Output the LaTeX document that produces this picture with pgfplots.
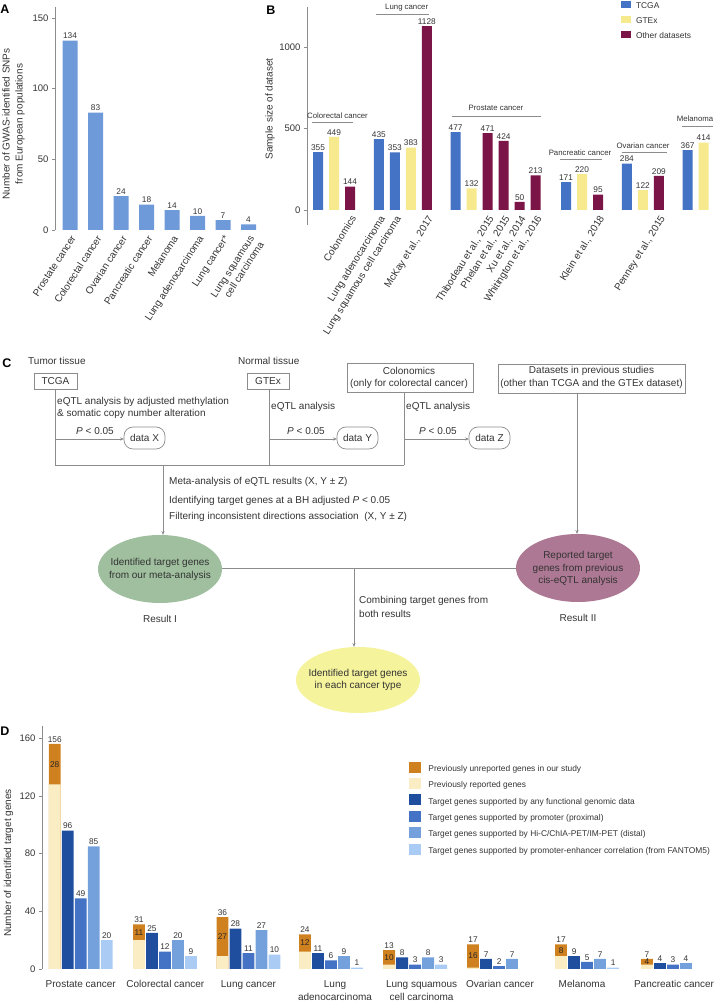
\documentclass[border=0pt]{standalone}
\usepackage{fontspec}
\setmainfont{Liberation Sans}
\usepackage{pgfplots}
\pgfplotsset{compat=1.18}
\usetikzlibrary{arrows.meta}
\definecolor{txt}{HTML}{333333}
\definecolor{axgray}{HTML}{8C8C8C}
\definecolor{abar}{HTML}{6F9AD9}
\definecolor{tcga}{HTML}{4472C4}
\definecolor{gtex}{HTML}{F7E98E}
\definecolor{other}{HTML}{7B1548}
\definecolor{unrep}{HTML}{D0811F}
\definecolor{rep}{HTML}{FAEDC4}
\definecolor{anyf}{HTML}{1F4E9F}
\definecolor{prom}{HTML}{4472C4}
\definecolor{hic}{HTML}{74A1DC}
\definecolor{fant}{HTML}{AACCF4}
\definecolor{egreen}{HTML}{9FBF9E}
\definecolor{epurple}{HTML}{AD7893}
\definecolor{eyellow}{HTML}{F5F39C}
\pgfkeys{/pgf/number format/.cd, assume math mode=true, 1000 sep={}}
\pgfplotsset{
  panel/.style={
    anchor=south west,
    axis lines*=left,
    axis line style={-},
    x axis line style={draw=none},
    y axis line style={draw=axgray, line width=0.6pt},
    xtick style={draw=none},
    ytick style={draw=axgray, line width=0.6pt},
    major tick length=3pt,
    tick align=outside,
    tick label style={font=\fontsize{9.5}{11}\selectfont, text=txt},
    clip=false,
    nodes near coords style={font=\fontsize{8.3}{9}\selectfont, text=txt, inner sep=1.5pt},
  },
  bars/.style={ybar, bar shift=0pt, draw=none, forget plot},
}
\begin{document}
\begin{tikzpicture}
% ---------------- Panel A ----------------
\begin{axis}[panel, at={(55pt,776pt)}, x=25.5pt, y=1.414pt,
  xmin=-0.59, xmax=7.45, ymin=0, ymax=158,
  xtick={0,1,2,3,4,5,6,7}, ytick={0,50,100,150},
  xticklabels={Prostate cancer, Colorectal cancer, Ovarian cancer, Pancreatic cancer, Melanoma, Lung adenocarcinoma, Lung cancer*, {Lung squamous\\cell carcinoma}},
  xticklabel style={rotate=57, anchor=north east, align=right, font=\fontsize{10}{11.5}\selectfont, inner sep=1pt},
]
\addplot[bars, bar width=15pt, fill=abar, nodes near coords] coordinates {(0,134) (1,83) (2,24) (3,18) (4,14) (5,10) (6,7) (7,4)};
\end{axis}
% ---------------- Panel B ----------------
\begin{axis}[panel, at={(307pt,796pt)}, x=16pt, y=0.163pt,
  xmin=-0.69, xmax=24.8, ymin=0, ymax=1245,
  y axis line style={draw=none},
  ytick={0,500,1000},
  xtick={2,3.8,4.8,6.8,10.6,11.6,12.6,13.6,17.5,21.3},
  xticklabels={Colonomics, Lung adenocarcinoma, Lung squamous cell carcinoma, {McKay et al., 2017}, {Thibodeau et al., 2015}, {Phelan et al., 2015}, {Xu et al., 2014}, {Whitington et al., 2016}, {Klein et al., 2018}, {Penney et al., 2015}},
  xticklabel style={rotate=58, anchor=north east, font=\fontsize{10}{11}\selectfont, inner sep=1pt},
  legend style={at={(0.770,1.030)}, anchor=north west, draw=none, fill=none, inner sep=0pt, outer sep=0pt, column sep=4.5pt, row sep=4.5pt, font=\fontsize{8.4}{10}\selectfont, text=txt, nodes={inner sep=0.5pt, text height=6pt, text depth=2pt}},
  legend cell align=left,
  legend image code/.code={\fill[#1] (0pt,-1.5pt) rectangle (10pt,5.9pt);},
]
\draw[axgray, line width=0.6pt] (axis cs:-0.69,-92) -- (axis cs:-0.69,1245);
\addplot[bars, bar width=10pt, fill=tcga, nodes near coords] coordinates {(0,355) (3.8,435) (4.8,353) (8.6,477) (15.5,171) (19.3,284) (23.1,367)};
\addplot[bars, bar width=10pt, fill=gtex, nodes near coords] coordinates {(1,449) (5.8,383) (9.6,132) (16.5,220) (20.3,122) (24.1,414)};
\addplot[bars, bar width=10pt, fill=other, nodes near coords] coordinates {(2,144) (6.8,1128) (10.6,471) (11.6,424) (12.6,50) (13.6,213) (17.5,95) (21.3,209)};
\addlegendimage{fill=tcga, draw=none}\addlegendentry{TCGA}
\addlegendimage{fill=gtex, draw=none}\addlegendentry{GTEx}
\addlegendimage{fill=other, draw=none}\addlegendentry{Other datasets}
\end{axis}
% ---------------- Panel D ----------------
\begin{axis}[panel, at={(42pt,37pt)}, x=13pt, y=1.4425pt,
  xmin=-0.98, xmax=50, ymin=0, ymax=168.5,
  ytick={0,40,80,120,160},
  xtick={2,8.51,14.9,21.56,28.22,34.25,40.56,47.64},
  xticklabels={Prostate cancer, Colorectal cancer, Lung cancer, {Lung\\adenocarcinoma}, {Lung squamous\\cell carcinoma}, Ovarian cancer, Melanoma, Pancreatic cancer},
  xticklabel style={align=center, font=\fontsize{10}{13}\selectfont, yshift=-5pt},
  legend style={at={(0.5545,0.8536)}, anchor=north west, draw=none, fill=none, inner sep=0pt, outer sep=0pt, column sep=6.5pt, row sep=4.2pt, font=\fontsize{8.4}{10}\selectfont, text=txt, nodes={inner sep=0.5pt, text height=6pt, text depth=2pt}},
  legend cell align=left,
  legend image code/.code={\fill[#1] (0pt,-3.3pt) rectangle (12pt,7.7pt);},
]
\addplot[bars, bar width=11.8pt, fill=unrep, nodes near coords] coordinates {(0,156) (6.48,31) (12.9,36) (19.25,24) (25.72,13) (32.18,17) (38.95,17) (45.56,7)};
\addplot[bars, bar width=11.8pt, fill=rep] coordinates {(0,128) (6.48,20) (12.9,9) (19.25,12) (25.72,3) (32.18,1) (38.95,9) (45.56,3)};
\addplot[bars, bar width=11.8pt, fill=anyf, nodes near coords] coordinates {(1,96) (7.48,25) (13.9,28) (20.25,11) (26.72,8) (33.18,7) (39.95,9) (46.56,4)};
\addplot[bars, bar width=11.8pt, fill=prom, nodes near coords] coordinates {(2,49) (8.48,12) (14.9,11) (21.25,6) (27.72,3) (34.18,2) (40.95,5) (47.56,3)};
\addplot[bars, bar width=11.8pt, fill=hic, nodes near coords] coordinates {(3,85) (9.48,20) (15.9,27) (22.25,9) (28.72,8) (35.18,7) (41.95,7) (48.56,4)};
\addplot[bars, bar width=11.8pt, fill=fant, nodes near coords] coordinates {(4,20) (10.48,9) (16.9,10) (23.25,1) (29.72,3) (42.95,1)};
\addplot[forget plot, draw=none, mark=none, nodes near coords, point meta=explicit symbolic, nodes near coords align={center}, nodes near coords style={font=\fontsize{8.3}{9}\selectfont, text=black!85, anchor=center}] coordinates {(0,142)[28] (6.48,25.5)[11] (12.9,22.5)[27] (19.25,18)[12] (25.72,8)[10] (32.18,9)[16] (38.95,13)[8] (45.56,5)[4]};
\addlegendimage{fill=unrep, draw=none}\addlegendentry{Previously unreported genes in our study}
\addlegendimage{fill=rep, draw=none}\addlegendentry{Previously reported genes}
\addlegendimage{fill=anyf, draw=none}\addlegendentry{Target genes supported by any functional genomic data}
\addlegendimage{fill=prom, draw=none}\addlegendentry{Target genes supported by promoter (proximal)}
\addlegendimage{fill=hic, draw=none}\addlegendentry{Target genes supported by Hi-C/ChIA-PET/IM-PET (distal)}
\addlegendimage{fill=fant, draw=none}\addlegendentry{Target genes supported by promoter-enhancer correlation (from FANTOM5)}
\end{axis}
% ---------------- Annotations and flowchart (pixel coordinates) ----------------
\begin{scope}[x=1pt, y=-1pt, yshift=1006pt, every node/.append style={text=txt, inner sep=0pt, font=\fontsize{10}{12}\selectfont}]
  \tikzset{fl/.style={draw=axgray, line width=0.7pt}, arr/.style={fl, -{Stealth[length=4pt, width=3.2pt]}}}
  % panel letters
  \node[font=\bfseries\fontsize{12.5}{12.5}\selectfont, text=black] at (5,9) {A};
  \node[font=\bfseries\fontsize{12.5}{12.5}\selectfont, text=black] at (271,10) {B};
  \node[font=\bfseries\fontsize{12.5}{12.5}\selectfont, text=black] at (7,363) {C};
  \node[font=\bfseries\fontsize{12.5}{12.5}\selectfont, text=black] at (5,731) {D};
  % axis titles
  \node[rotate=90, align=center, font=\fontsize{10}{13}\selectfont] at (13.5,124) {Number of GWAS-identified SNPs\\from European populations};
  \node[rotate=90] at (270,109) {Sample size of dataset};
  \node[rotate=90] at (8.5,863) {Number of identified target genes};
  % B group labels
  \begin{scope}[every node/.append style={font=\fontsize{7.8}{9}\selectfont}]
    \node at (337.5,116) {Colorectal cancer}; \draw[fl, line width=0.6pt] (311.7,122.7) -- (352.7,122.7);
    \node at (406.7,7.3) {Lung cancer}; \draw[fl, line width=0.6pt] (375.7,14.3) -- (429,14.3);
    \node at (496,108.3) {Prostate cancer}; \draw[fl, line width=0.6pt] (451.7,116.7) -- (540.7,116.7);
    \node at (580,152.7) {Pancreatic cancer}; \draw[fl, line width=0.6pt] (560,159) -- (602.3,159);
    \node at (643,145.3) {Ovarian cancer}; \draw[fl, line width=0.6pt] (621.7,152.3) -- (666.7,152.3);
    \node at (695,119) {Melanoma}; \draw[fl, line width=0.6pt] (682,126) -- (713,126);
  \end{scope}
  % ---- flowchart ----
  \node[anchor=west] at (28,361) {Tumor tissue};
  \draw[fl] (34,373) rectangle (77,389); \node at (55.5,381) {TCGA};
  \node[anchor=west] at (57,402) {eQTL analysis by adjusted methylation};
  \node[anchor=west] at (57,414.3) {\& somatic copy number alteration};
  \node[anchor=west] at (238,361) {Normal tissue};
  \draw[fl] (247,373) rectangle (289,389); \node at (268,381) {GTEx};
  \node[anchor=west] at (271,407) {eQTL analysis};
  \draw[fl] (347,363) rectangle (473,392);
  \node at (409,370.5) {Colonomics};
  \node at (409,383.5) {(only for colorectal cancer)};
  \node[anchor=west] at (406,407) {eQTL analysis};
  \draw[fl] (498,364) rectangle (685,393);
  \node at (591.5,371) {Datasets in previous studies};
  \node at (591.5,384) {(other than TCGA and the GTEx dataset)};
  % verticals and bottom line
  \draw[fl] (55,389) -- (55,465) -- (404,465);
  \draw[fl] (269,389) -- (269,465);
  \draw[fl] (404,392) -- (404,465);
  % arrows to data boxes
  \draw[arr] (55,439) -- (124,439);
  \draw[arr] (269,439) -- (337,439);
  \draw[arr] (404,439) -- (469,439);
  \node at (95,431.5) {\textit{P} < 0.05};
  \node at (306,431) {\textit{P} < 0.05};
  \node at (438,431) {\textit{P} < 0.05};
  \draw[fl, rounded corners=9pt] (124,427) rectangle (165,449); \node at (144.5,438) {data X};
  \draw[fl, rounded corners=9pt] (337,427) rectangle (378,449); \node at (357.5,438) {data Y};
  \draw[fl, rounded corners=9pt] (469,427) rectangle (510,449); \node at (489.5,438) {data Z};
  % meta-analysis arrow
  \draw[arr] (163,465) -- (163,535);
  \node[anchor=west] at (169,482) {Meta-analysis of eQTL results (X, Y ± Z)};
  \node[anchor=west] at (169,501) {Identifying target genes at a BH adjusted \textit{P} < 0.05};
  \node[anchor=west] at (169,517) {Filtering inconsistent directions association\ \ (X, Y ± Z)};
  \draw[arr] (577,393) -- (577,534);
  % ellipses
  \fill[egreen] (160,569) ellipse [x radius=62pt, y radius=34pt];
  \fill[epurple] (578,568) ellipse [x radius=62pt, y radius=34pt];
  \draw[fl] (222,568) -- (516,568);
  \draw[arr] (354,568) -- (354,647);
  \fill[eyellow] (358,680) ellipse [x radius=62pt, y radius=33pt];
  \node at (160,563) {Identified target genes};
  \node at (160,575.5) {from our meta-analysis};
  \node at (160,619) {Result I};
  \node at (578,556) {Reported target};
  \node at (578,568.5) {genes from previous};
  \node at (578,581) {cis-eQTL analysis};
  \node at (578,618) {Result II};
  \node[anchor=west] at (359,601) {Combining target genes from};
  \node[anchor=west] at (359,613.5) {both results};
  \node at (358,673.5) {Identified target genes};
  \node at (358,686) {in each cancer type};
\end{scope}
\pgfresetboundingbox
\path[use as bounding box] (0,0) rectangle (715pt,1006pt);
\end{tikzpicture}
\end{document}
